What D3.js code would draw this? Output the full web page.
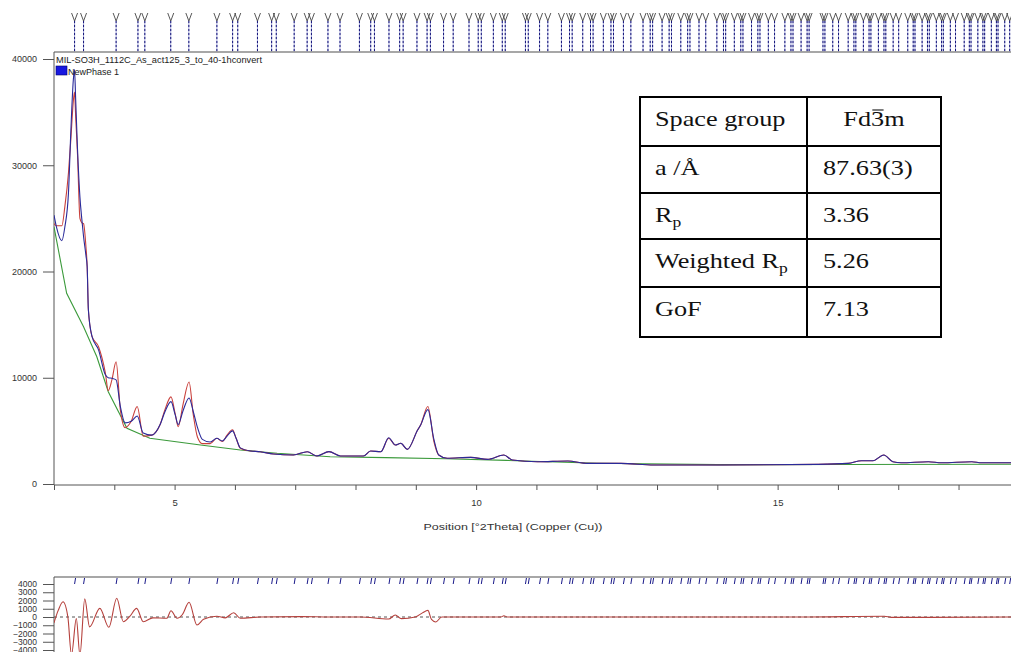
<!DOCTYPE html>
<html>
<head>
<meta charset="utf-8">
<script src="https://cdn.jsdelivr.net/npm/d3@7"></script>
<style>
  html, body { margin: 0; padding: 0; background: #fff; }
  svg { display: block; }
</style>
</head>
<body>
<script>
// 2theta grid of the measured / calculated profile
const theta = [3.00, 3.04, 3.13, 3.18, 3.24, 3.28, 3.32, 3.34, 3.36, 3.39, 3.43, 3.46, 3.49, 3.53, 3.55, 3.57, 3.63,
  3.74, 3.85, 3.90, 3.96, 4.03, 4.10, 4.18, 4.28, 4.38, 4.48, 4.62, 4.76, 4.84, 4.94, 5.01, 5.06, 5.14, 5.24, 5.31, 5.38,
  5.46, 5.59, 5.70, 5.79, 5.87, 5.96, 6.02, 6.09, 6.26, 6.42, 6.64, 6.97, 7.20, 7.36, 7.56, 7.75, 8.13, 8.25, 8.42, 8.55,
  8.66, 8.75, 8.86, 9.03, 9.08, 9.20, 9.30, 9.38, 9.52, 9.91, 10.19, 10.46, 10.60, 11.02, 11.52, 11.85, 12.40, 12.95,
  14.06, 15.67, 16.17, 16.39, 16.58, 16.76, 16.91, 17.05, 17.50, 17.72, 18.22, 18.38, 18.90];

// observed counts (red)
const observed = [24500, 24300, 24300, 26100, 29300, 32500, 36000, 36900, 34500, 31000, 25000, 24600, 24500, 22300, 20500, 16400, 13900,
  12900, 10500, 8800, 9800, 11500, 7000, 5300, 5900, 7300, 4500, 4600, 5600, 7000, 8200, 6600, 5400, 7500, 9600, 6500, 4400,
  3800, 3800, 4300, 4000, 4600, 5100, 4300, 3360, 3100, 3040, 2820, 2730, 3040, 2630, 3050, 2630, 2630, 3100, 3040, 4300,
  3670, 3830, 3260, 5080, 5550, 7300, 4000, 2730, 2420, 2510, 2320, 2730, 2260, 2100, 2160, 1940, 1940, 1790,
  1790, 1850, 1940, 2190, 2190, 2730, 2100, 2000, 2100, 2000, 2100, 2000, 2000];

// calculated profile (blue)
const calculated = [25300, 24200, 22900, 24200, 27400, 33300, 38000, 39000, 36100, 31500, 27000, 25000, 23300, 21500, 20450, 16400, 13900,
  12600, 10300, 10000, 9950, 9800, 7300, 5750, 5900, 6400, 4800, 4600, 5600, 6800, 7750, 6500, 5600, 6900, 8100, 6800, 5300,
  4200, 3950, 4300, 4050, 4500, 5000, 4300, 3400, 3100, 3040, 2820, 2730, 3040, 2630, 3050, 2630, 2630, 3100, 3040, 4360,
  3670, 3830, 3260, 5080, 5550, 7000, 4200, 2730, 2420, 2510, 2320, 2730, 2260, 2100, 2160, 1940, 1940, 1790,
  1790, 1850, 1940, 2190, 2190, 2730, 2100, 2000, 2100, 2000, 2100, 2000, 2000];

// background (green)
const bgTheta = [3.00, 3.21, 3.49, 3.71, 3.90, 4.21, 4.59, 5.43, 6.09, 6.70, 7.58, 8.50, 9.50, 10.50, 12.00, 14.00, 16.00, 18.90];
const background = [24200, 17950, 14800, 11980, 8690, 5240, 4300, 3670, 3200, 2890, 2570, 2480, 2380, 2220, 1960, 1820, 1830, 1860];

// difference plot
const diffTheta = [3.00, 3.07, 3.15, 3.23, 3.29, 3.37, 3.43, 3.51, 3.59, 3.76, 3.91, 4.04, 4.15, 4.26, 4.37, 4.48, 4.64, 4.87,
  4.94, 5.04, 5.13, 5.24, 5.37, 5.48, 5.70, 5.84, 5.98, 6.09, 6.42, 7.09, 7.58, 8.08, 8.55, 8.66, 8.76, 8.99, 9.11, 9.20,
  9.26, 9.33, 9.43, 10.41, 10.46, 10.52, 12.07, 13.73, 15.39, 16.77, 16.89, 18.90];
const difference = [-700, 800, 1850, 0, -4600, -200, -4600, 2200, -1200, 1050, -1250, 2270, -570, 100, 1050, -570, -100, -160,
  760, -160, 300, 1780, -970, -280, 100, -100, 520, -160, 0, 50, 0, 0, -250, 250, -200, 0, 500, 800,
  -300, -600, 0, 0, 150, 0, 0, 0, 0, 100, -50, 0];

// reflection positions of NewPhase 1 (2theta)
const reflections = [3.341, 3.490, 4.030, 4.392, 4.506, 4.936, 5.236, 5.701, 5.962, 6.047, 6.374, 6.609, 6.686, 6.983, 7.198,
  7.269, 7.543, 7.743, 8.065, 8.252, 8.314, 8.555, 8.732, 8.790, 9.019, 9.187, 9.242, 9.460, 9.620, 9.882, 10.035, 10.086,
  10.286, 10.434, 10.483, 10.818, 10.865, 11.052, 11.189, 11.415, 11.549, 11.593, 11.768, 11.897, 11.940, 12.110, 12.236,
  12.278, 12.443, 12.566, 12.768, 12.887, 12.927, 13.084, 13.201, 13.240, 13.394, 13.508, 13.546, 13.696, 13.808, 13.992,
  14.102, 14.138, 14.282, 14.389, 14.425, 14.567, 14.672, 14.707, 14.846, 14.949, 15.120, 15.221, 15.255, 15.389, 15.489,
  15.522, 15.752, 15.784, 15.914, 16.010, 16.170, 16.265, 16.297, 16.422, 16.516, 16.547, 16.671, 16.763, 16.794, 16.916,
  17.007, 17.158, 17.248, 17.278, 17.396, 17.485, 17.515, 17.632, 17.719, 17.748, 17.864, 17.950, 18.094, 18.179, 18.207,
  18.320, 18.404, 18.433, 18.544, 18.628, 18.655, 18.766, 18.848];

// ticks
const xTicks = d3.range(3, 19);
const xLabels = [5, 10, 15];
const yTicks = [0, 10000, 20000, 30000, 40000];
const diffTicks = [4000, 3000, 2000, 1000, 0, -1000, -2000, -3000, -4000];

// table
const tableLabels = ["Space group", "a /Å", "R", "Weighted R", "GoF"];
const tableSubs = ["", "", "p", "p", ""];
const tableValues = ["Fd3m", "87.63(3)", "3.36", "5.26", "7.13"];

const sans = "'Liberation Sans', Arial, sans-serif";
const serif = "'Liberation Serif', 'Times New Roman', serif";

const width = 1011, height = 652;
const svg = d3.select("body").append("svg").attr("width", width).attr("height", height)
  .style("font-family", sans);

const x = d3.scaleLinear().domain([3, 18.87]).range([54, 1011]);
const y = d3.scaleLinear().domain([0, 40000]).range([484, 59]);
const yd = d3.scaleLinear().domain([-4000, 4000]).range([650, 584]);

const defs = svg.append("defs");
defs.append("clipPath").attr("id", "clipMain")
  .append("rect").attr("x", 54).attr("y", 52).attr("width", width - 54).attr("height", 433);
defs.append("clipPath").attr("id", "clipDiff")
  .append("rect").attr("x", 54).attr("y", 578).attr("width", width - 54).attr("height", 80);

// reflection markers above the main plot
const refl = svg.append("g")
  .selectAll("g")
  .data(reflections.filter((d) => x(d) <= width + 4))
  .join("g")
  .attr("transform", (d) => `translate(${x(d)},0)`);
refl.append("line").attr("y1", 21).attr("y2", 52).attr("stroke", "#9da0d6").attr("stroke-width", 1);
refl.append("line").attr("y1", 21).attr("y2", 52).attr("stroke", "#141478")
  .attr("stroke-width", 1).attr("stroke-dasharray", "2,2");
refl.append("path").attr("d", "M-3,13L0,21L3,13").attr("fill", "none")
  .attr("stroke", "#444").attr("stroke-width", 0.9);

// frame of main plot
svg.append("line").attr("x1", 54).attr("x2", width).attr("y1", 52).attr("y2", 52)
  .attr("stroke", "#8a8a8a").attr("stroke-width", 1.5);
svg.append("line").attr("x1", 54).attr("x2", 54).attr("y1", 52).attr("y2", 485).attr("stroke", "#555");
svg.append("line").attr("x1", 54).attr("x2", width).attr("y1", 485).attr("y2", 485).attr("stroke", "#555");

// axes
const yAxis = svg.append("g").attr("transform", "translate(54,0)")
  .call(d3.axisLeft(y).tickValues(yTicks).tickSize(11).tickPadding(6).tickFormat(d3.format("d")));
yAxis.select(".domain").remove();
yAxis.selectAll("line").attr("stroke", "#555");
yAxis.selectAll("text").attr("font-size", 9).attr("fill", "#333").style("font-family", sans);

const xAxis = svg.append("g").attr("transform", "translate(0,485)")
  .call(d3.axisBottom(x).tickValues(xTicks).tickSize(5).tickPadding(9)
    .tickFormat((d) => (xLabels.includes(d) ? d : "")));
xAxis.select(".domain").remove();
xAxis.selectAll("line").attr("stroke", "#555");
xAxis.selectAll("text").attr("font-size", 9.5).attr("fill", "#333").style("font-family", sans);

svg.append("text").attr("x", 513).attr("y", 530).attr("text-anchor", "middle")
  .attr("font-size", 9.5).attr("fill", "#333")
  .attr("textLength", 179).attr("lengthAdjust", "spacingAndGlyphs")
  .text("Position [°2Theta] (Copper (Cu))");

// curves
const plot = svg.append("g").attr("clip-path", "url(#clipMain)");
const prof = d3.line().x((d) => x(d[0])).y((d) => y(d[1])).curve(d3.curveMonotoneX);
const lin = d3.line().x((d) => x(d[0])).y((d) => y(d[1]));

plot.append("path").datum(d3.zip(bgTheta, background)).attr("d", lin)
  .attr("fill", "none").attr("stroke", "#3b9a3b").attr("stroke-width", 1.1);
plot.append("path").datum(d3.zip(theta, observed)).attr("d", prof)
  .attr("fill", "none").attr("stroke", "#c9403c").attr("stroke-width", 1.1);
plot.append("path").datum(d3.zip(theta, calculated)).attr("d", prof)
  .attr("fill", "none").attr("stroke", "#2a2a9a").attr("stroke-width", 1.1);

// legend
svg.append("text").attr("x", 56).attr("y", 63).attr("font-size", 9).attr("fill", "#222")
  .attr("textLength", 206).attr("lengthAdjust", "spacingAndGlyphs")
  .text("MIL-SO3H_1112C_As_act125_3_to_40-1hconvert");
svg.append("rect").attr("x", 56).attr("y", 66).attr("width", 11).attr("height", 9)
  .attr("fill", "#1717e0").attr("stroke", "#00006a").attr("stroke-width", 0.6);
svg.append("text").attr("x", 68).attr("y", 75).attr("font-size", 9).attr("fill", "#222")
  .text("NewPhase 1");

// difference plot
svg.append("line").attr("x1", 54).attr("x2", width).attr("y1", 577).attr("y2", 577)
  .attr("stroke", "#8a8a8a").attr("stroke-width", 1.5);
svg.append("line").attr("x1", 54).attr("x2", 54).attr("y1", 577).attr("y2", height).attr("stroke", "#555");
svg.append("line").attr("x1", 54).attr("x2", width).attr("y1", yd(0)).attr("y2", yd(0))
  .attr("stroke", "#555").attr("stroke-dasharray", "3,3");

svg.append("g").selectAll("line")
  .data(reflections.filter((d) => x(d) <= width + 2))
  .join("line")
  .attr("x1", (d) => x(d) + 1).attr("x2", (d) => x(d))
  .attr("y1", 578).attr("y2", 584)
  .attr("stroke", "#1a1a8a").attr("stroke-width", 1);

const dAxis = svg.append("g").attr("transform", "translate(54,0)")
  .call(d3.axisLeft(yd).tickValues(diffTicks).tickSize(11).tickPadding(6).tickFormat(d3.format("d")));
dAxis.select(".domain").remove();
dAxis.selectAll("line").attr("stroke", "#555");
dAxis.selectAll("text").attr("font-size", 8.5).attr("fill", "#333").style("font-family", sans);

const diffLine = d3.line().x((d) => x(d[0])).y((d) => yd(d[1])).curve(d3.curveMonotoneX);
svg.append("g").attr("clip-path", "url(#clipDiff)")
  .append("path").datum(d3.zip(diffTheta, difference)).attr("d", diffLine)
  .attr("fill", "none").attr("stroke", "#b5403c").attr("stroke-width", 1.1);

// refinement table
const colX = [640, 807, 941];
const rowY = [97, 146, 193, 239, 287, 337];
const table = svg.append("g");
table.append("rect").attr("x", colX[0]).attr("y", rowY[0])
  .attr("width", colX[2] - colX[0]).attr("height", rowY[5] - rowY[0])
  .attr("fill", "#fff").attr("stroke", "#000").attr("stroke-width", 2);
table.selectAll("line.h").data(rowY.slice(1, 5)).join("line").attr("class", "h")
  .attr("x1", colX[0]).attr("x2", colX[2]).attr("y1", (d) => d).attr("y2", (d) => d)
  .attr("stroke", "#000").attr("stroke-width", 2);
table.append("line").attr("x1", colX[1]).attr("x2", colX[1]).attr("y1", rowY[0]).attr("y2", rowY[5])
  .attr("stroke", "#000").attr("stroke-width", 2);

tableLabels.forEach((lab, i) => {
  const g = table.append("g").attr("transform", `translate(655,${rowY[i] + 29}) scale(1.25,1)`);
  const t = g.append("text").style("font-family", serif).attr("font-size", 21).attr("fill", "#111");
  t.append("tspan").text(lab);
  if (tableSubs[i]) {
    t.append("tspan").attr("font-size", 14).attr("dy", 5).text(tableSubs[i]);
  }
});

tableValues.forEach((val, i) => {
  const center = i === 0;
  const gx = center ? (colX[1] + colX[2]) / 2 : 823;
  const g = table.append("g").attr("transform", `translate(${gx},${rowY[i] + 29}) scale(1.25,1)`);
  const t = g.append("text").style("font-family", serif).attr("font-size", 21).attr("fill", "#111")
    .attr("text-anchor", center ? "middle" : "start").text(val);
  if (center) {
    // overline on the 3 of Fd-3m
    const node = t.node();
    const s = node.getStartPositionOfChar(2).x;
    const e = node.getEndPositionOfChar(2).x;
    g.append("line").attr("x1", s + 1).attr("x2", e - 0.5).attr("y1", -16).attr("y2", -16)
      .attr("stroke", "#111").attr("stroke-width", 1.1);
  }
});
</script>
</body>
</html>
